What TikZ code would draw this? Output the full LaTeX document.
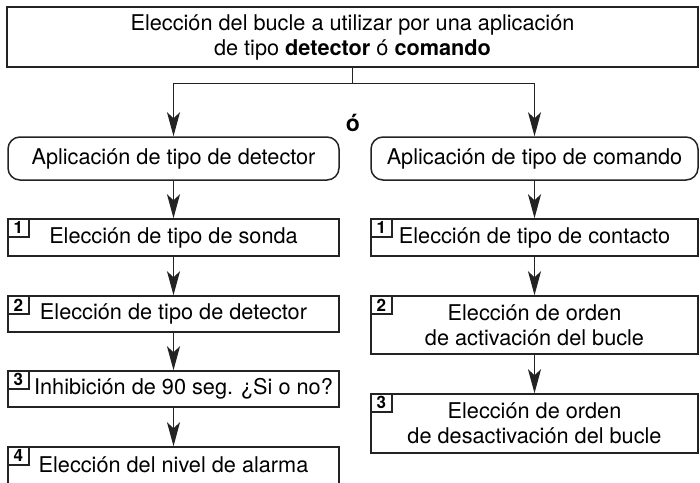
\documentclass[tikz,border=0pt]{standalone}
\usepackage{fontspec}
\setmainfont{TeX Gyre Heros}
\usepackage{xcolor}
\usepackage{tikz}
\usetikzlibrary{arrows.meta,positioning,calc}
\definecolor{linea}{RGB}{35,35,35}

\begin{document}
\begin{tikzpicture}[x=1pt,y=-1pt,>={Stealth[length=24pt,width=13pt,inset=6pt]},
  every node/.style={font=\fontsize{21.7pt}{25pt}\selectfont,inner sep=0pt},
  caja/.style={draw=linea,line width=1.5pt,minimum width=331pt,align=center},
  cajad/.style={caja,minimum width=327pt},
  redonda/.style={caja,rounded corners=12pt,minimum height=43pt},
  num/.style={draw=linea,line width=1.3pt,fill=white,minimum width=21pt,minimum height=18pt,
    anchor=north west,font=\fontsize{17pt}{18pt}\selectfont\bfseries},
  flecha/.style={->,draw=linea,line width=1.4pt}]
  \useasboundingbox (0,0) rectangle (700,482);
  \node[caja,minimum width=691pt,minimum height=60pt] (top) at (352.5,37)
    {Elección del bucle a utilizar por una aplicación\\de tipo \textbf{detector} ó \textbf{comando}};
  \node[redonda] (detapp) at (173.5,158.5) {Aplicación de tipo de detector};
  \node[redonda,minimum width=327pt] (comapp) at (534.5,158.5) {Aplicación de tipo de comando};
  \node[font=\fontsize{23pt}{25pt}\selectfont\bfseries] (o) at (353,123) {ó};
  \coordinate (split) at ($(top.south)+(0,16)$);
  \draw[flecha] (top.south) -- (split) -| (detapp.north);
  \draw[flecha] (split) -| (comapp.north);

  \node[caja,minimum height=37pt] (d1) at (173.5,237.5) {Elección de tipo de sonda};
  \node[caja,minimum height=36pt] (d2) at (173.5,314) {Elección de tipo de detector};
  \node[caja,minimum height=36pt] (d3) at (173.5,389) {\hspace*{20pt}Inhibición de 90 seg. ¿Si o no?};
  \node[caja,minimum height=46pt] (d4) at (173.5,470) {\raisebox{-11pt}{}Elección del nivel de alarma};
  \node[num] (d1n) at (d1.north west) {1};
  \node[num] (d2n) at (d2.north west) {2};
  \node[num] (d3n) at (d3.north west) {3};
  \node[num] (d4n) at (d4.north west) {4};
  \draw[flecha] (detapp) -- (d1);
  \draw[flecha] (d1) -- (d2);
  \draw[flecha] (d2) -- (d3);
  \draw[flecha] (d3) -- (d4);

  \node[cajad,minimum height=37pt] (c1) at (534.5,237.5) {Elección de tipo de contacto};
  \node[cajad,minimum height=58pt] (c2) at (534.5,325) {Elección de orden\\de activación del bucle};
  \node[cajad,minimum height=59pt] (c3) at (534.5,423.5) {Elección de orden\\de desactivación del bucle};
  \node[num] (c1n) at (c1.north west) {1};
  \node[num] (c2n) at (c2.north west) {2};
  \node[num] (c3n) at (c3.north west) {3};
  \draw[flecha] (comapp) -- (c1);
  \draw[flecha] (c1) -- (c2);
  \draw[flecha] (c2) -- (c3);
\end{tikzpicture}
\end{document}
